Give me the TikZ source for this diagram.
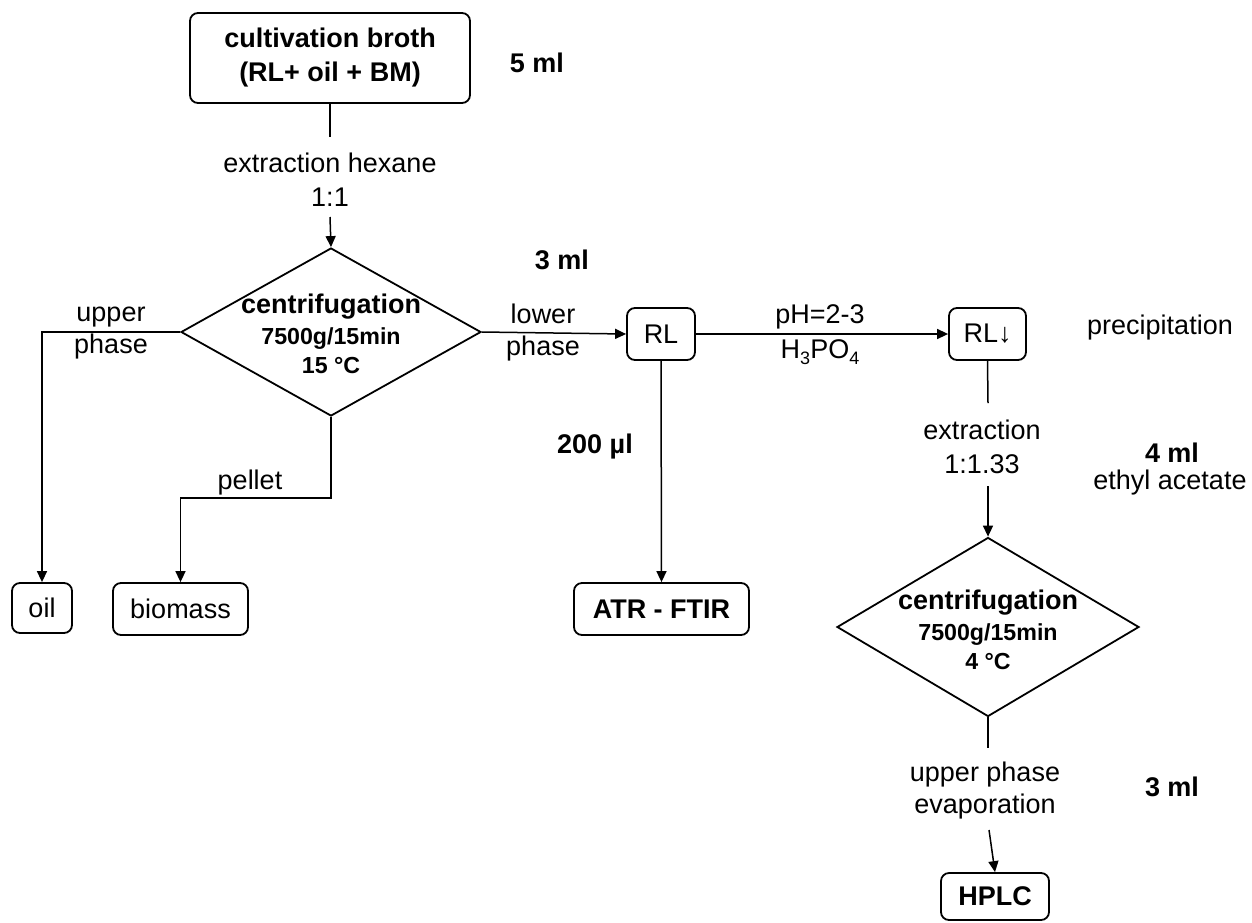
\documentclass[tikz,border=0pt]{standalone}
\usepackage{fontspec}
\setmainfont{Liberation Sans}
\usetikzlibrary{shapes.geometric,arrows.meta}
\newcommand\txt{\fontsize{13.5}{17}\selectfont}
\newcommand\sml{\fontsize{11.6}{14.5}\selectfont}
\newcommand\subs[1]{\raisebox{-3pt}{\fontsize{9}{9}\selectfont #1}}

\begin{document}
\begin{tikzpicture}[x=0.5pt,y=-0.5pt,
		box/.style={draw,rounded corners=4pt,line width=0.9pt,inner sep=0pt,font=\txt},
		diam/.style={draw,diamond,line width=0.9pt,inner sep=0pt},
		lbl/.style={align=center,inner sep=0pt,font=\txt},
		vol/.style={inner sep=0pt,font=\txt\bfseries},
		flow/.style={line width=0.75pt},
		arr/.style={flow,-{Triangle[length=5.5pt,width=5pt]}}]
	\useasboundingbox (0,0) rectangle (1252,922);
	% boxes and diamonds
	\node[box,font=\txt\bfseries,align=center,minimum width=140pt,minimum height=45pt] (broth) at (330,58) {cultivation broth\\(RL+ oil + BM)};
	\node[diam,minimum width=150pt,minimum height=84pt] (c1) at (331,332) {};
	\node[lbl,font=\sml\bfseries] (c1txt) at (331,334) {{\txt centrifugation}\\[1pt]7500g/15min\\15 °C};
	\node[box,minimum width=30pt,minimum height=25pt] (oil) at (42,608) {oil};
	\node[box,minimum width=67.5pt,minimum height=26pt] (biomass) at (180.5,609) {biomass};
	\node[box,minimum width=34pt,minimum height=26pt] (rl) at (661,334) {RL};
	\node[box,minimum width=38.5pt,minimum height=26pt] (rlp) at (987.5,334) {RL{\bfseries↓}};
	\node[box,font=\txt\bfseries,minimum width=87.5pt,minimum height=26pt] (atr) at (661.5,609) {ATR - FTIR};
	\node[diam,minimum width=151pt,minimum height=89.5pt] (c2) at (988,627) {};
	\node[lbl,font=\sml\bfseries] (c2txt) at (988,630) {{\txt centrifugation}\\[1pt]7500g/15min\\4 °C};
	\node[box,font=\txt\bfseries,minimum width=54pt,minimum height=23.5pt] (hplc) at (995,896.5) {HPLC};
	% volumes and notes
	\node[vol] (v5) at (537,63) {5 ml};
	\node[vol] (v3a) at (562,260) {3 ml};
	\node[vol] (v200) at (595,447) {200 µl};
	\node[vol] (v4) at (1172,453) {4 ml};
	\node[lbl] (ethyl) at (1170,483) {ethyl acetate};
	\node[vol] (v3b) at (1172,787) {3 ml};
	\node[lbl] (precip) at (1160,328) {precipitation};
	% connectors
	\coordinate (e1) at (330,137);
	\coordinate (e2) at (330,217);
	\draw[flow] (broth) -- (e1);
	\node[lbl] (hex) at (330,180) {extraction hexane\\1:1};
	\draw[arr] (e2) -- (c1.north);
	\draw[arr] (c1.west) -| (oil.north);
	\node[lbl,font=\fontsize{13.5}{16}\selectfont] (up) at (111,333) {upper\\phase};
	\coordinate (pel) at (331,498);
	\draw[arr] (c1.south) -- (pel) -| (biomass.north);
	\node[lbl] (pellet) at (250,483) {pellet};
	\draw[arr] (c1.east) -- (rl.west);
	\node[lbl,font=\fontsize{13.5}{16}\selectfont] (low) at (543,333) {lower\\phase};
	\draw[arr] (rl) -- (rlp);
	\node[lbl,font=\fontsize{13.5}{17.5}\selectfont] (acid) at (820,335) {pH=2-3\\H\subs{3}PO\subs{4}};
	\draw[arr] (rl.south) -- (atr.north);
	\coordinate (e3) at (988,403);
	\coordinate (e4) at (988,486);
	\draw[flow] (rlp.south) -- (e3);
	\node[lbl] (ext) at (982,447) {extraction\\1:1.33};
	\draw[arr] (e4) -- (c2.north);
	\coordinate (e5) at (988,748);
	\coordinate (e6) at (989,830);
	\draw[flow] (c2.south) -- (e5);
	\node[lbl,font=\fontsize{13.5}{16}\selectfont] (evap) at (985,791) {upper phase\\evaporation};
	\draw[arr] (e6) -- (hplc.north);
\end{tikzpicture}
\end{document}
